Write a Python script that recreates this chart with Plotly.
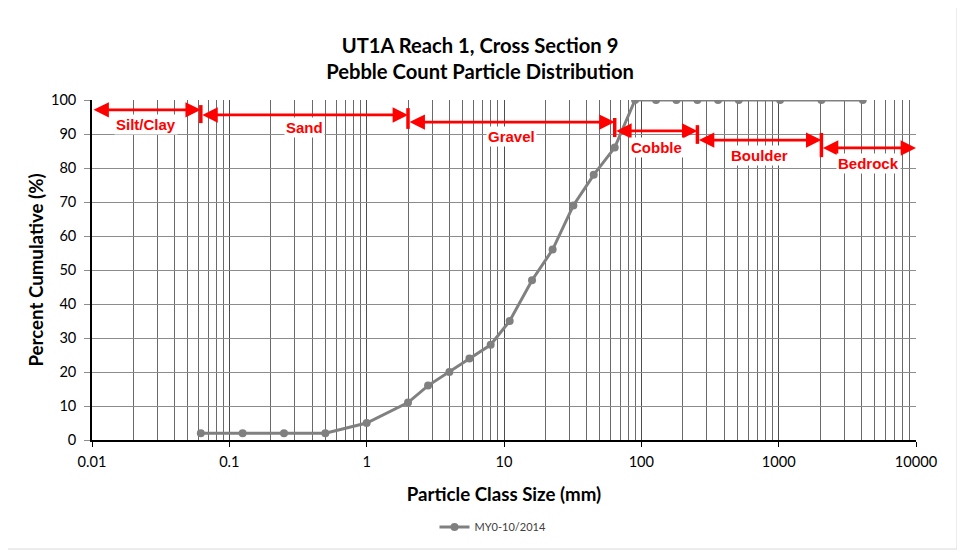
import math
import plotly.graph_objects as go

# ---- data ----
sizes_mm = [0.062, 0.125, 0.25, 0.5, 1, 2, 2.8, 4, 5.6, 8, 11, 16, 22.6, 32, 45, 64,
            90, 128, 180, 256, 362, 512, 1024, 2048, 4096]
pct_cumulative = [2, 2, 2, 2, 5, 11, 16, 20, 24, 28, 35, 47, 56, 69, 78, 86,
                  100, 100, 100, 100, 100, 100, 100, 100, 100]
series_name = "MY0-10/2014"

class_names = ["Silt/Clay", "Sand", "Gravel", "Cobble", "Boulder", "Bedrock"]
class_lo = [0.01, 0.062, 2, 64, 256, 2048]
class_hi = [0.062, 2, 64, 256, 2048, 10000]
class_arrow_y = [97.1, 95.6, 93.5, 90.9, 88.2, 85.9]
class_label_y = [92.9, 91.8, 89.4, 85.9, 83.8, 81.2]
# end-bar extents (percent) at each class upper bound
bar_top = [98.5, 97.6, 94.7, 92.6, 90.3]
bar_bottom = [93.2, 91.5, 89.1, 87.1, 83.2]

x_tickvals = [0.01, 0.1, 1, 10, 100, 1000, 10000]
x_ticktext = ["0.01", "0.1", "1", "10", "100", "1000", "10000"]
y_tickvals = list(range(0, 101, 10))

minor_vals = [m * 10 ** e for e in range(-2, 4) for m in range(2, 10)]

RED = "#ff0000"
LAB = "Liberation Sans, Arial, sans-serif"
CAL = "Lato, Open Sans, sans-serif"

fig = go.Figure()

fig.add_trace(go.Scatter(
    x=sizes_mm, y=pct_cumulative, mode="lines+markers", name=series_name,
    line=dict(color="#808080", width=3),
    marker=dict(color="#808080", size=8, symbol="circle"),
))

annotations = []
shapes = []
for name, lo, hi, ay, ly in zip(class_names, class_lo, class_hi, class_arrow_y, class_label_y):
    annotations.append(dict(
        x=math.log10(hi), y=ay, ax=math.log10(lo), ay=ay,
        xref="x", yref="y", axref="x", ayref="y",
        text="", showarrow=True, arrowhead=2, arrowside="end+start",
        arrowsize=1.1, arrowwidth=2.8, arrowcolor=RED, standoff=0, startstandoff=0,
    ))
    annotations.append(dict(
        x=(math.log10(lo) + math.log10(hi)) / 2, y=ly, xref="x", yref="y",
        text="<b>%s</b>" % name, showarrow=False, bgcolor="white",
        font=dict(family=LAB, size=15, color=RED), borderpad=1,
    ))

for hi, top, bot in zip(class_hi[:-1], bar_top, bar_bottom):
    shapes.append(dict(type="line", xref="x", yref="y",
                       x0=hi, x1=hi, y0=bot, y1=top,
                       line=dict(color=RED, width=3.5)))

# outer chart border
shapes.append(dict(type="rect", xref="paper", yref="paper",
                   x0=(5 - 92) / 824, x1=(957 - 92) / 824,
                   y0=(440 - 549) / 340, y1=(440 - 3) / 340,
                   line=dict(color="#d9d9d9", width=1), layer="below"))

W, H = 957, 547
fig.update_layout(
    width=W, height=H,
    margin=dict(l=84, r=49, t=92, b=115),
    paper_bgcolor="white", plot_bgcolor="white",
    title=dict(
        text="<b>UT1A Reach 1, Cross Section 9<br>Pebble Count Particle Distribution</b>",
        x=(480 - 8) / W, xref="container", xanchor="center",
        y=1 - 45 / H, yref="container", yanchor="top",
        font=dict(family=CAL, size=20.2, color="black"),
    ),
    font=dict(family=CAL, size=15, color="black"),
    showlegend=True,
    legend=dict(orientation="h", x=(493 - 8) / W, xref="container", xanchor="center",
                y=1 - (527 - 8) / H, yref="container", yanchor="middle",
                font=dict(family=CAL, size=11, color="#404040")),
    annotations=annotations,
    shapes=shapes,
)

fig.update_xaxes(
    type="log", range=[-2, 4], automargin=False,
    tickmode="array", tickvals=x_tickvals, ticktext=x_ticktext,
    ticks="outside", ticklen=5, tickcolor="black", ticklabelstandoff=3,
    showgrid=True, gridcolor="#4d4d4d", gridwidth=1,
    showline=True, linecolor="black", linewidth=1.5,
    minor=dict(tickmode="array", tickvals=minor_vals, showgrid=True,
               gridcolor="#6a6a6a", gridwidth=1, ticks=""),
    zeroline=False,
    title=dict(text="<b>Particle Class Size (mm)</b>",
               font=dict(family=CAL, size=18.7), standoff=19),
    tickfont=dict(family=CAL, size=14.6),
)
fig.update_yaxes(
    range=[0, 100], automargin=False, tickmode="array", tickvals=y_tickvals,
    ticks="outside", ticklen=6, tickcolor="#8c8c8c", ticklabelstandoff=5,
    showgrid=True, gridcolor="#8c8c8c", gridwidth=1,
    showline=True, linecolor="black", linewidth=1.5,
    zeroline=False,
    title=dict(text="<b>Percent Cumulative (%)</b>",
               font=dict(family=CAL, size=18.7), standoff=2),
    tickfont=dict(family=CAL, size=14.6),
)

fig.write_html("out.html")
